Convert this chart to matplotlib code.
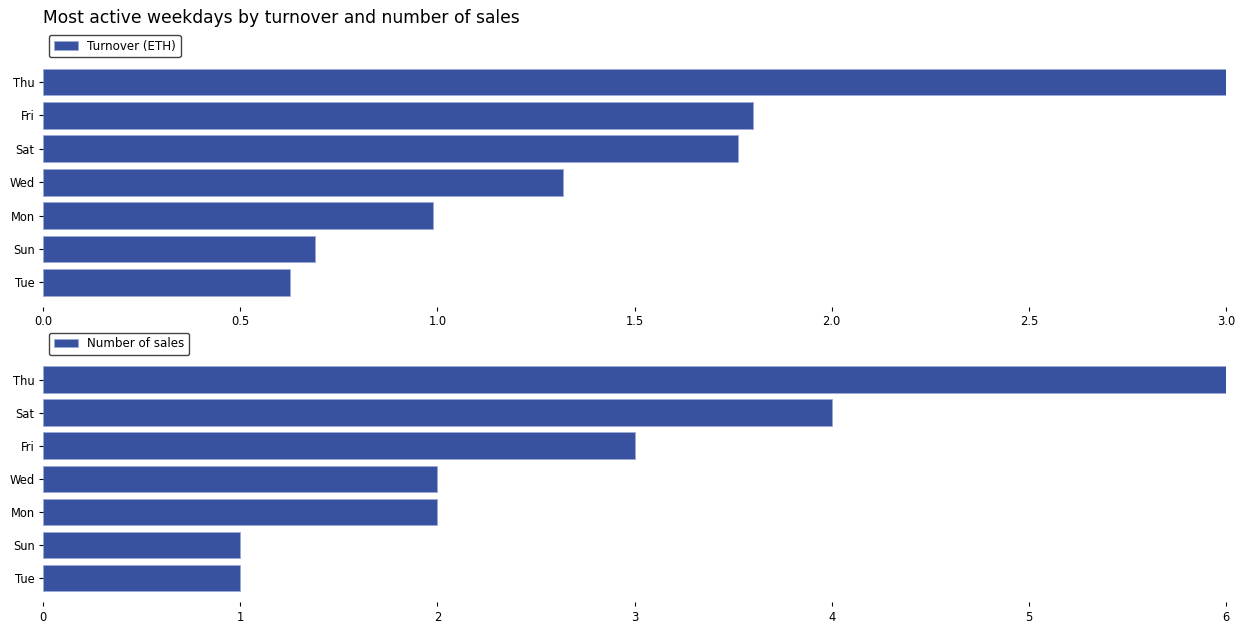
import matplotlib
matplotlib.use("Agg")
import matplotlib.pyplot as plt

# Data
turnover_days = ["Thu", "Fri", "Sat", "Wed", "Mon", "Sun", "Tue"]
turnover_eth = [3.0, 1.80, 1.762, 1.318, 0.99, 0.69, 0.627]

sales_days = ["Thu", "Sat", "Fri", "Wed", "Mon", "Sun", "Tue"]
sales_count = [6, 4, 3, 2, 2, 1, 1]

BAR_COLOR = "#3852a0"
EDGE_COLOR = "#9aaad8"

fig = plt.figure(figsize=(12.4, 6.23), dpi=100)
ax1 = fig.add_axes([0.0347, 0.507, 0.954, 0.401])
ax2 = fig.add_axes([0.0347, 0.033, 0.954, 0.397])


def draw(ax, days, values, label, ticks):
    ax.barh(days, values, height=0.8, color=BAR_COLOR,
            edgecolor=EDGE_COLOR, linewidth=0.6, label=label)
    ax.invert_yaxis()
    ax.set_xlim(0, max(values))
    ax.set_xticks(ticks)
    for s in ax.spines.values():
        s.set_visible(False)
    ax.tick_params(labelsize=8.3, length=3, width=0.8, pad=3)
    leg = ax.legend(loc="lower left", bbox_to_anchor=(0.005, 1.0), fontsize=8.6,
                    frameon=True, fancybox=True, framealpha=1,
                    borderaxespad=0)
    leg.get_frame().set_edgecolor("#444444")


draw(ax1, turnover_days, turnover_eth, "Turnover (ETH)",
     [0, 0.5, 1.0, 1.5, 2.0, 2.5, 3.0])
draw(ax2, sales_days, sales_count, "Number of sales", range(7))

fig.text(0.0347, 0.957, "Most active weekdays by turnover and number of sales",
         fontsize=12.3, ha="left", va="bottom")

fig.savefig("out.png", dpi=100)
